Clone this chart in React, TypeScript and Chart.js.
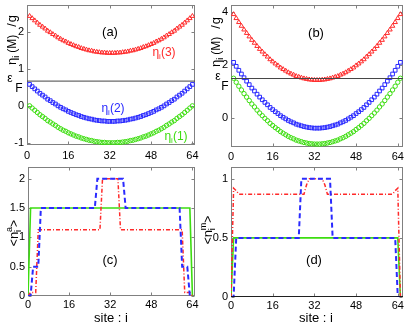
import React, { useEffect, useRef } from 'react';
import { Chart, registerables } from 'chart.js';

Chart.register(...registerables);

const FONT = '"Liberation Sans", Arial, Helvetica, sans-serif';
const W = 409;
const H = 327;
const XH = 20;

const RED = '#ff2a2a';
const BLUE = '#2a2aff';
const GREEN = '#3ddd10';
const AXIS = '#808080';

// ---- tick labels ----
const X_TICKS = [0, 16, 32, 48, 64];
const Y_TICKS_A = [-1, 0, 1, 2];
const Y_TICKS_B = [0, 2, 4];
const Y_TICKS_C = [0, 0.5, 1, 1.5, 2];
const Y_TICKS_D = [0, 0.5, 1];

// Fermi levels
const EF_A = 0.67;
const EF_B = 1.5;

// ---- panel (a): eta_i(M)/g, sites 1..64 ----
const ETA_A1 = [
  0.00, -0.06, -0.12, -0.18, -0.24, -0.29, -0.34, -0.40, -0.44, -0.49, -0.53, -0.58, -0.62, -0.66, -0.69, -0.73,
  -0.76, -0.79, -0.82, -0.84, -0.87, -0.89, -0.91, -0.93, -0.94, -0.96, -0.97, -0.98, -0.99, -0.99, -1.00, -1.00,
  -1.00, -1.00, -0.99, -0.99, -0.98, -0.97, -0.96, -0.94, -0.93, -0.91, -0.89, -0.87, -0.84, -0.82, -0.79, -0.76,
  -0.73, -0.69, -0.66, -0.62, -0.58, -0.53, -0.49, -0.44, -0.40, -0.34, -0.29, -0.24, -0.18, -0.12, -0.06, 0.00,
];
const ETA_A2 = [
  0.58, 0.52, 0.46, 0.40, 0.34, 0.29, 0.24, 0.18, 0.14, 0.09, 0.05, 0.00, -0.04, -0.08, -0.11, -0.15,
  -0.18, -0.21, -0.24, -0.26, -0.29, -0.31, -0.33, -0.35, -0.36, -0.38, -0.39, -0.40, -0.41, -0.41, -0.42, -0.42,
  -0.42, -0.42, -0.41, -0.41, -0.40, -0.39, -0.38, -0.36, -0.35, -0.33, -0.31, -0.29, -0.26, -0.24, -0.21, -0.18,
  -0.15, -0.11, -0.08, -0.04, 0.00, 0.05, 0.09, 0.14, 0.18, 0.24, 0.29, 0.34, 0.40, 0.46, 0.52, 0.58,
];
const ETA_A3 = [
  2.43, 2.37, 2.31, 2.25, 2.19, 2.14, 2.09, 2.03, 1.99, 1.94, 1.90, 1.85, 1.81, 1.77, 1.74, 1.70,
  1.67, 1.64, 1.61, 1.59, 1.56, 1.54, 1.52, 1.50, 1.49, 1.47, 1.46, 1.45, 1.44, 1.44, 1.43, 1.43,
  1.43, 1.43, 1.44, 1.44, 1.45, 1.46, 1.47, 1.49, 1.50, 1.52, 1.54, 1.56, 1.59, 1.61, 1.64, 1.67,
  1.70, 1.74, 1.77, 1.81, 1.85, 1.90, 1.94, 1.99, 2.03, 2.09, 2.14, 2.19, 2.25, 2.31, 2.37, 2.43,
];

// ---- panel (b): sites 1..65 ----
const ETA_B1 = [
  1.51, 1.36, 1.21, 1.07, 0.93, 0.80, 0.67, 0.54, 0.43, 0.31, 0.20, 0.10, 0.00, -0.09, -0.19, -0.27,
  -0.35, -0.42, -0.50, -0.56, -0.62, -0.68, -0.73, -0.77, -0.82, -0.85, -0.88, -0.91, -0.93, -0.95, -0.96, -0.97,
  -0.97,
  -0.97, -0.96, -0.95, -0.93, -0.91, -0.88, -0.85, -0.82, -0.77, -0.73, -0.68, -0.62, -0.56, -0.50, -0.42, -0.35,
  -0.27, -0.19, -0.09, 0.00, 0.10, 0.20, 0.31, 0.43, 0.54, 0.67, 0.80, 0.93, 1.07, 1.21, 1.36, 1.51,
];
const ETA_B2 = [
  2.11, 1.96, 1.81, 1.67, 1.53, 1.40, 1.27, 1.14, 1.03, 0.91, 0.80, 0.70, 0.60, 0.51, 0.41, 0.33,
  0.25, 0.18, 0.10, 0.04, -0.02, -0.08, -0.13, -0.17, -0.22, -0.25, -0.28, -0.31, -0.33, -0.35, -0.36, -0.37,
  -0.37,
  -0.37, -0.36, -0.35, -0.33, -0.31, -0.28, -0.25, -0.22, -0.17, -0.13, -0.08, -0.02, 0.04, 0.10, 0.18, 0.25,
  0.33, 0.41, 0.51, 0.60, 0.70, 0.80, 0.91, 1.03, 1.14, 1.27, 1.40, 1.53, 1.67, 1.81, 1.96, 2.11,
];
const ETA_B3 = [
  3.92, 3.77, 3.62, 3.48, 3.34, 3.21, 3.08, 2.95, 2.84, 2.72, 2.61, 2.51, 2.41, 2.32, 2.22, 2.14,
  2.06, 1.99, 1.91, 1.85, 1.79, 1.73, 1.68, 1.64, 1.59, 1.56, 1.53, 1.50, 1.48, 1.46, 1.45, 1.44,
  1.44,
  1.44, 1.45, 1.46, 1.48, 1.50, 1.53, 1.56, 1.59, 1.64, 1.68, 1.73, 1.79, 1.85, 1.91, 1.99, 2.06,
  2.14, 2.22, 2.32, 2.41, 2.51, 2.61, 2.72, 2.84, 2.95, 3.08, 3.21, 3.34, 3.48, 3.62, 3.77, 3.92,
];

// ---- panel (c): <n_i^a>, sites 0..64 ----
const NA_GREEN = [
  0,
  1.5, 1.5, 1.5, 1.5, 1.5, 1.5, 1.5, 1.5, 1.5, 1.5, 1.5, 1.5, 1.5, 1.5, 1.5, 1.5,
  1.5, 1.5, 1.5, 1.5, 1.5, 1.5, 1.5, 1.5, 1.5, 1.5, 1.5, 1.5, 1.5, 1.5, 1.5, 1.5,
  1.5, 1.5, 1.5, 1.5, 1.5, 1.5, 1.5, 1.5, 1.5, 1.5, 1.5, 1.5, 1.5, 1.5, 1.5, 1.5,
  1.5, 1.5, 1.5, 1.5, 1.5, 1.5, 1.5, 1.5, 1.5, 1.5, 1.5, 1.5, 1.5, 1.5, 1.5,
  0,
];
const NA_BLUE = [
  0, 0, 0.5, 0.5, 0.5,
  1.5, 1.5, 1.5, 1.5, 1.5, 1.5, 1.5, 1.5, 1.5, 1.5, 1.5, 1.5, 1.5, 1.5, 1.5, 1.5, 1.5, 1.5, 1.5, 1.5, 1.5, 1.5,
  2, 2, 2, 2, 2, 2, 2, 2, 2, 2, 2,
  1.5, 1.5, 1.5, 1.5, 1.5, 1.5, 1.5, 1.5, 1.5, 1.5, 1.5, 1.5, 1.5, 1.5, 1.5, 1.5, 1.5, 1.5, 1.5, 1.5, 1.5, 1.5,
  0.5, 0.5, 0.5, 0, 0,
];
const NA_RED = [
  0, 0.06, 0.06, 0.06,
  1.13, 1.13, 1.13, 1.13, 1.13, 1.13, 1.13, 1.13, 1.13, 1.13, 1.13, 1.13, 1.13, 1.13, 1.13, 1.13, 1.13, 1.13, 1.13, 1.13, 1.13, 1.13, 1.13, 1.13, 1.13,
  2, 2, 2, 2, 2, 2, 2,
  1.13, 1.13, 1.13, 1.13, 1.13, 1.13, 1.13, 1.13, 1.13, 1.13, 1.13, 1.13, 1.13, 1.13, 1.13, 1.13, 1.13, 1.13, 1.13, 1.13, 1.13, 1.13, 1.13, 1.13, 1.13,
  0.06, 0.06, 0.06, 0,
];

// ---- panel (d): <n_i^m>, sites 0..65 ----
const NM_GREEN = [
  0,
  0.5, 0.5, 0.5, 0.5, 0.5, 0.5, 0.5, 0.5, 0.5, 0.5, 0.5, 0.5, 0.5, 0.5, 0.5, 0.5,
  0.5, 0.5, 0.5, 0.5, 0.5, 0.5, 0.5, 0.5, 0.5, 0.5, 0.5, 0.5, 0.5, 0.5, 0.5, 0.5,
  0.5, 0.5, 0.5, 0.5, 0.5, 0.5, 0.5, 0.5, 0.5, 0.5, 0.5, 0.5, 0.5, 0.5, 0.5, 0.5,
  0.5, 0.5, 0.5, 0.5, 0.5, 0.5, 0.5, 0.5, 0.5, 0.5, 0.5, 0.5, 0.5, 0.5, 0.5, 0.5,
  0,
];
const NM_BLUE = [
  0, 0,
  0.5, 0.5, 0.5, 0.5, 0.5, 0.5, 0.5, 0.5, 0.5, 0.5, 0.5, 0.5, 0.5, 0.5, 0.5, 0.5, 0.5, 0.5, 0.5, 0.5, 0.5, 0.5, 0.5, 0.5, 0.5,
  1, 1, 1, 1, 1, 1, 1, 1, 1, 1, 1, 1,
  0.5, 0.5, 0.5, 0.5, 0.5, 0.5, 0.5, 0.5, 0.5, 0.5, 0.5, 0.5, 0.5, 0.5, 0.5, 0.5, 0.5, 0.5, 0.5, 0.5, 0.5, 0.5, 0.5, 0.5, 0.5,
  0, 0,
];
const NM_RED = [
  0, 0.92, 0.90,
  0.87, 0.87, 0.87, 0.87, 0.87, 0.87, 0.87, 0.87, 0.87, 0.87, 0.87, 0.87, 0.87, 0.87, 0.87, 0.87, 0.87, 0.87, 0.87, 0.87, 0.87, 0.87, 0.87, 0.87, 0.87, 0.87,
  0.95, 1, 1, 1, 1, 1, 1, 0.95,
  0.87, 0.87, 0.87, 0.87, 0.87, 0.87, 0.87, 0.87, 0.87, 0.87, 0.87, 0.87, 0.87, 0.87, 0.87, 0.87, 0.87, 0.87, 0.87, 0.87, 0.87, 0.87, 0.87, 0.87, 0.87, 0.87,
  0.90, 0.92, 0,
];

type Seg = { t: string; s: number; dy?: number; hold?: boolean; gap?: number };
type Label = { segs: Seg[]; x: number; y: number; rot?: boolean; color?: string; start?: boolean };
type Area = { l: number; t: number; r: number; b: number };
interface Panel {
  area: Area;
  xMax: number;
  yMin: number;
  yMax: number;
  yTicks: number[];
  xPad: number;
  datasets: any[];
  labels: Label[];
}

const pts = (arr: number[], x0: number) => arr.map((v, i) => ({ x: i + x0, y: v }));

const markerDs = (arr: number[], x0: number, color: string, style: string, r: number) => ({
  data: pts(arr, x0),
  showLine: false,
  pointStyle: style,
  pointRadius: r,
  pointBorderColor: color,
  pointBackgroundColor: 'rgba(0,0,0,0)',
  pointBorderWidth: 1,
  borderColor: color,
  backgroundColor: 'rgba(0,0,0,0)',
});

const lineDs = (data: { x: number; y: number }[], color: string, width: number, dash: number[]) => ({
  data,
  showLine: true,
  pointRadius: 0,
  borderColor: color,
  backgroundColor: color,
  borderWidth: width,
  borderDash: dash,
  fill: false,
  tension: 0,
});

const A_XMAX = 65;
const B_XMAX = 66;

const etaTitle = (x: number, y: number): Label => ({
  segs: [
    { t: 'η', s: 13 },
    { t: 'i', s: 9, dy: 3, gap: 3 },
    { t: '(M)', s: 12, gap: 8 },
    { t: '/', s: 13, gap: 1 },
    { t: 'g', s: 13 },
  ],
  x, y, rot: true, start: true,
});
const nTitle = (sup: string, x: number, y: number): Label => ({
  segs: [
    { t: '<', s: 12 },
    { t: 'n', s: 13 },
    { t: sup, s: 9, dy: -6, hold: true },
    { t: 'i', s: 9, dy: 3 },
    { t: '>', s: 12 },
  ],
  x, y, rot: true,
});

const PANELS: Panel[] = [
  {
    area: { l: 27, t: 2, r: 195, b: 145 },
    xMax: A_XMAX, yMin: -1.06, yMax: 2.73, yTicks: Y_TICKS_A, xPad: 4,
    datasets: [
      lineDs([{ x: 0, y: EF_A }, { x: A_XMAX, y: EF_A }], '#444', 1, []),
      markerDs(ETA_A3, 1, RED, 'triangle', 2.6),
      markerDs(ETA_A2, 1, BLUE, 'rect', 2.6),
      markerDs(ETA_A1, 1, GREEN, 'circle', 2.2),
    ],
    labels: [
      { segs: [{ t: '(a)', s: 13 }], x: 110, y: 36 },
      { segs: [{ t: 'η', s: 12 }, { t: 'i', s: 8, dy: 3 }, { t: '(3)', s: 12 }], x: 164, y: 56, color: RED },
      { segs: [{ t: 'η', s: 12 }, { t: 'i', s: 8, dy: 3 }, { t: '(2)', s: 12 }], x: 113, y: 112, color: BLUE },
      { segs: [{ t: 'η', s: 12 }, { t: 'i', s: 8, dy: 3 }, { t: '(1)', s: 12 }], x: 176, y: 140, color: GREEN },
      { segs: [{ t: 'ε', s: 12 }], x: 10, y: 82 },
      { segs: [{ t: 'F', s: 12 }], x: 19, y: 92 },
      etaTitle(16, 65),
    ],
  },
  {
    area: { l: 231, t: 2, r: 403, b: 147 },
    xMax: B_XMAX, yMin: -1.08, yMax: 4.27, yTicks: Y_TICKS_B, xPad: 3,
    datasets: [
      lineDs([{ x: 0, y: EF_B }, { x: B_XMAX, y: EF_B }], '#444', 1, []),
      markerDs(ETA_B3, 1, RED, 'triangle', 2.6),
      markerDs(ETA_B2, 1, BLUE, 'rect', 2.6),
      markerDs(ETA_B1, 1, GREEN, 'circle', 2.2),
    ],
    labels: [
      { segs: [{ t: '(b)', s: 13 }], x: 316, y: 37 },
      { segs: [{ t: 'ε', s: 12 }], x: 218, y: 80 },
      { segs: [{ t: 'F', s: 12 }], x: 225, y: 89.5 },
      etaTitle(220, 67),
    ],
  },
  {
    area: { l: 28, t: 167, r: 195, b: 296 },
    xMax: A_XMAX, yMin: 0, yMax: 2.2, yTicks: Y_TICKS_C, xPad: 2,
    datasets: [
      lineDs(pts(NA_BLUE, 0), BLUE, 2, [5, 3]),
      lineDs(pts(NA_RED, 0), RED, 1.5, [4, 2, 1, 2]),
      lineDs(pts(NA_GREEN, 0), GREEN, 1.6, []),
    ],
    labels: [
      { segs: [{ t: '(c)', s: 13 }], x: 110, y: 264 },
      { segs: [{ t: 'site : i', s: 13 }], x: 111, y: 322 },
      nTitle('a', 18, 233),
    ],
  },
  {
    area: { l: 231, t: 167, r: 403, b: 297 },
    xMax: B_XMAX, yMin: 0, yMax: 1.1, yTicks: Y_TICKS_D, xPad: 2,
    datasets: [
      lineDs([{ x: 0, y: 0 }, { x: B_XMAX, y: 0 }], '#000', 1.5, []),
      lineDs(pts(NM_BLUE, 0), BLUE, 2, [5, 3]),
      lineDs(pts(NM_RED, 0), RED, 1.5, [4, 2, 1, 2]),
      lineDs(pts(NM_GREEN, 0), GREEN, 1.6, []),
    ],
    labels: [
      { segs: [{ t: '(d)', s: 13 }], x: 314, y: 264 },
      { segs: [{ t: 'site : i', s: 13 }], x: 316, y: 322 },
      nTitle('m', 212, 230),
    ],
  },
];

function drawRich(ctx: CanvasRenderingContext2D, lab: Label) {
  ctx.save();
  ctx.translate(lab.x, lab.y);
  if (lab.rot) ctx.rotate(-Math.PI / 2);
  ctx.fillStyle = lab.color || '#000';
  ctx.textBaseline = 'alphabetic';
  ctx.textAlign = 'left';
  const widths = lab.segs.map((s) => {
    ctx.font = `${s.s}px ${FONT}`;
    return ctx.measureText(s.t).width;
  });
  let adv = 0;
  let hold = 0;
  lab.segs.forEach((s, i) => {
    if (s.hold) hold = Math.max(hold, widths[i]);
    else {
      adv += Math.max(widths[i], hold) + (s.gap || 0);
      hold = 0;
    }
  });
  let cx = lab.start ? 0 : -adv / 2;
  hold = 0;
  lab.segs.forEach((s, i) => {
    ctx.font = `${s.s}px ${FONT}`;
    ctx.fillText(s.t, cx, s.dy || 0);
    if (s.hold) hold = Math.max(hold, widths[i]);
    else {
      cx += Math.max(widths[i], hold) + (s.gap || 0);
      hold = 0;
    }
  });
  ctx.restore();
}

function makeConfig(p: Panel): any {
  const frame = {
    id: 'frame',
    beforeDatasetsDraw(chart: any) {
      const { ctx, chartArea: a } = chart;
      const xs = chart.scales.x;
      const ys = chart.scales.y;
      ctx.save();
      ctx.strokeStyle = AXIS;
      ctx.lineWidth = 1;
      const L = Math.round(a.left) + 0.5;
      const R = Math.round(a.right) - 0.5;
      const T = Math.round(a.top) + 0.5;
      const B = Math.round(a.bottom) - 0.5;
      ctx.strokeRect(L, T, R - L, B - T);
      ctx.beginPath();
      X_TICKS.forEach((v) => {
        const px = Math.round(xs.getPixelForValue(v)) + 0.5;
        ctx.moveTo(px, B);
        ctx.lineTo(px, B - 3);
        ctx.moveTo(px, T);
        ctx.lineTo(px, T + 3);
      });
      p.yTicks.forEach((v) => {
        const py = Math.round(ys.getPixelForValue(v)) + 0.5;
        ctx.moveTo(L, py);
        ctx.lineTo(L + 3, py);
        ctx.moveTo(R, py);
        ctx.lineTo(R - 3, py);
      });
      ctx.stroke();
      ctx.restore();
    },
    afterDraw(chart: any) {
      const ctx = chart.ctx as CanvasRenderingContext2D;
      p.labels.forEach((lab) => drawRich(ctx, lab));
    },
  };
  const tickFont = { family: FONT, size: 11 };
  return {
    type: 'scatter',
    data: { datasets: p.datasets },
    options: {
      animation: false,
      responsive: false,
      maintainAspectRatio: false,
      layout: { padding: { left: 0, top: p.area.t, right: W - p.area.r, bottom: H - p.area.b - XH } },
      plugins: { legend: { display: false }, tooltip: { enabled: false } },
      scales: {
        x: {
          type: 'linear',
          position: 'bottom',
          min: 0,
          max: p.xMax,
          grid: { display: false, drawTicks: false, tickLength: 0 },
          border: { display: false },
          ticks: { color: '#000', font: tickFont, padding: p.xPad, maxRotation: 0, autoSkip: false, callback: (v: any) => String(v) },
          afterBuildTicks: (s: any) => {
            s.ticks = X_TICKS.map((v) => ({ value: v }));
          },
          afterFit: (s: any) => {
            s.height = XH;
            s.paddingLeft = 0;
            s.paddingRight = 0;
          },
        },
        y: {
          type: 'linear',
          position: 'left',
          min: p.yMin,
          max: p.yMax,
          grid: { display: false, drawTicks: false, tickLength: 0 },
          border: { display: false },
          ticks: { color: '#000', font: tickFont, padding: 3, autoSkip: false, callback: (v: any) => String(v) },
          afterBuildTicks: (s: any) => {
            s.ticks = p.yTicks.map((v) => ({ value: v }));
          },
          afterFit: (s: any) => {
            s.width = p.area.l;
            s.paddingTop = 0;
            s.paddingBottom = 0;
          },
        },
      },
    },
    plugins: [frame],
  };
}

function PanelCanvas({ panel }: { panel: Panel }) {
  const ref = useRef<HTMLCanvasElement>(null);
  useEffect(() => {
    if (!ref.current) return;
    const chart = new Chart(ref.current, makeConfig(panel));
    return () => chart.destroy();
  }, [panel]);
  return (
    <canvas
      ref={ref}
      width={W}
      height={H}
      style={{ position: 'absolute', left: 0, top: 0, width: W, height: H }}
    />
  );
}

export default function App() {
  return (
    <div style={{ position: 'fixed', left: 0, top: 0, width: W, height: H, background: '#fff', overflow: 'hidden' }}>
      {PANELS.map((p, i) => (
        <PanelCanvas key={i} panel={p} />
      ))}
    </div>
  );
}
